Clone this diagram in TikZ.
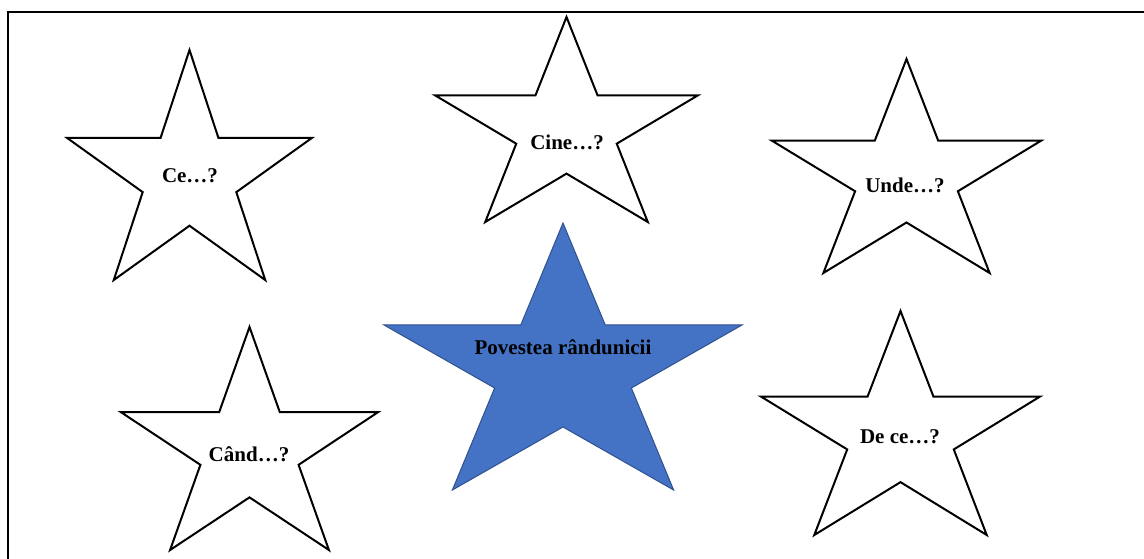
\documentclass[tikz,border=0pt]{standalone}
\usepackage{fontspec}
\setmainfont{Liberation Serif}
\definecolor{starblue}{HTML}{4472C4}
\definecolor{starrim}{HTML}{2F528F}
\tikzset{
  outline/.style={draw=black,line width=2pt,line join=miter,fill=white},
  bluestar/.style={draw=starrim,line width=1pt,line join=miter,fill=starblue},
  question/.style={font=\bfseries\fontsize{21}{25}\selectfont,inner sep=0pt}
}
% star in the box with top left corner (#2,#3), width #4, height #5
\newcommand{\boxstar}[5]{%
  \draw[#1] ({#2+0.5*#4},{#3}) -- ({#2+0.618*#4},{#3+0.382*#5}) -- ({#2+#4},{#3+0.382*#5})
    -- ({#2+0.691*#4},{#3+0.618*#5}) -- ({#2+0.809*#4},{#3+#5}) -- ({#2+0.5*#4},{#3+0.764*#5})
    -- ({#2+0.191*#4},{#3+#5}) -- ({#2+0.309*#4},{#3+0.618*#5}) -- ({#2},{#3+0.382*#5})
    -- ({#2+0.382*#4},{#3+0.382*#5}) -- cycle;}
\begin{document}
\begin{tikzpicture}[x=1pt,y=-1pt]
\clip (0,0) rectangle (1144,559);
\fill[white] (0,0) rectangle (1144,559);
\draw[line width=2pt] (8,12) rectangle (1170,590);
% outer stars
\boxstar{outline}{67}{50}{245}{230}
\boxstar{outline}{435}{17}{263}{205}
\boxstar{outline}{772}{59}{269}{214}
\boxstar{outline}{121}{327}{257}{223}
\boxstar{outline}{761}{311}{279}{224}
% middle star
\boxstar{bluestar}{384}{223}{358}{267}
\node[question] (ce) at (190,176) {Ce…?};
\node[question] (cine) at (567,142) {Cine…?};
\node[question] (unde) at (905,185) {Unde…?};
\node[question] (cand) at (249,454) {Când…?};
\node[question] (dece) at (900,437) {De ce…?};
\node[question] (poveste) at (563,347) {Povestea rândunicii};
\end{tikzpicture}
\end{document}
